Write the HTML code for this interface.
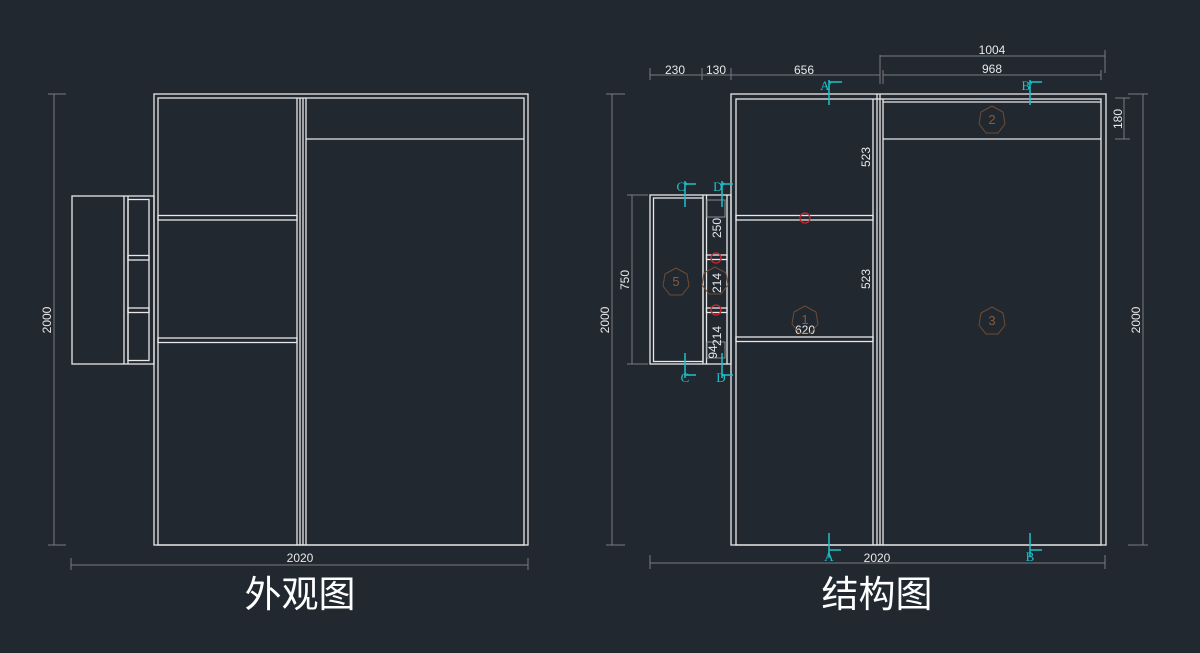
<!DOCTYPE html>
<html><head><meta charset="utf-8"><style>
html,body{margin:0;padding:0;background:#212830;}
svg{display:block}
</style></head><body>
<svg width="1200" height="653" viewBox="0 0 1200 653" xmlns="http://www.w3.org/2000/svg">
<rect width="1200" height="653" fill="#212830"/>
<g fill="none" stroke="#e8e8e8" stroke-width="1.3">
<!-- LEFT DRAWING -->
<rect x="154" y="94" width="374" height="451"/>
<rect x="158" y="98" width="366" height="447"/>
<line x1="297" y1="98" x2="297" y2="545"/><line x1="300" y1="98" x2="300" y2="545"/>
<line x1="303" y1="98" x2="303" y2="545"/><line x1="306" y1="98" x2="306" y2="545"/>
<rect x="158" y="215.5" width="139" height="4.5"/>
<rect x="158" y="338" width="139" height="4.5"/>
<line x1="306" y1="139" x2="524" y2="139"/>
<rect x="72" y="196" width="82" height="168"/>
<line x1="124" y1="196" x2="124" y2="364"/><line x1="128" y1="196" x2="128" y2="364"/>
<rect x="128" y="199.5" width="21" height="161"/>
<rect x="128" y="255.5" width="21" height="4.5"/>
<rect x="128" y="308" width="21" height="4.5"/>
<!-- RIGHT DRAWING -->
<rect x="731" y="94" width="375" height="451"/>
<rect x="736" y="99" width="365" height="446"/>
<line x1="873" y1="99" x2="873" y2="545"/><line x1="877" y1="94" x2="877" y2="545"/>
<line x1="880" y1="94" x2="880" y2="545"/><line x1="883" y1="99" x2="883" y2="545"/>
<line x1="883" y1="102" x2="1101" y2="102"/>
<line x1="883" y1="139" x2="1101" y2="139"/>
<rect x="736" y="215.5" width="137" height="4.5"/>
<rect x="736" y="337" width="137" height="4.5"/>
<rect x="650" y="195" width="81" height="169"/>
<rect x="653.5" y="198" width="49.5" height="163.5"/>
<line x1="703" y1="195" x2="703" y2="364"/><line x1="706.5" y1="195" x2="706.5" y2="364"/>
<line x1="727" y1="195" x2="727" y2="364"/>
<rect x="706.5" y="255" width="20.5" height="4.5"/>
<rect x="706.5" y="308" width="20.5" height="4.5"/>
</g>
<g fill="none" stroke="#8a8a8a" stroke-width="1">
<rect x="707" y="200" width="18" height="17"/>
<rect x="707" y="342" width="18" height="16"/>
</g>
<!-- dimension lines -->
<g stroke="#7a7d80" stroke-width="1" fill="none">
<line x1="54" y1="94" x2="54" y2="545"/><line x1="48" y1="94" x2="66" y2="94"/><line x1="48" y1="545" x2="66" y2="545"/>
<line x1="71" y1="565" x2="528" y2="565"/><line x1="71" y1="558" x2="71" y2="570"/><line x1="528" y1="558" x2="528" y2="570"/>
<line x1="612" y1="94" x2="612" y2="545"/><line x1="606" y1="94" x2="625" y2="94"/><line x1="606" y1="545" x2="625" y2="545"/>
<line x1="632" y1="195" x2="632" y2="364"/><line x1="627" y1="195" x2="648" y2="195"/><line x1="627" y1="364" x2="648" y2="364"/>
<line x1="650" y1="563" x2="1105" y2="563"/><line x1="650" y1="555" x2="650" y2="569"/><line x1="1105" y1="555" x2="1105" y2="569"/>
<line x1="650" y1="75" x2="880" y2="75"/>
<line x1="650" y1="68" x2="650" y2="80"/><line x1="702" y1="68" x2="702" y2="80"/><line x1="731" y1="68" x2="731" y2="80"/><line x1="880" y1="55" x2="880" y2="84"/>
<line x1="880" y1="56" x2="1105" y2="56"/><line x1="1105" y1="50" x2="1105" y2="73"/>
<line x1="883" y1="75" x2="1101" y2="75"/><line x1="883" y1="70" x2="883" y2="84"/><line x1="1101" y1="70" x2="1101" y2="80"/>
<line x1="1124" y1="98" x2="1124" y2="139"/><line x1="1115" y1="98" x2="1130" y2="98"/><line x1="1115" y1="139" x2="1130" y2="139"/>
<line x1="1143" y1="94" x2="1143" y2="545"/><line x1="1128" y1="94" x2="1148" y2="94"/><line x1="1128" y1="545" x2="1148" y2="545"/>
</g>
<g font-family="Liberation Sans, sans-serif" font-size="12" fill="#e8e8e8" text-anchor="middle">
<text x="300" y="562">2020</text>
<text x="877" y="562">2020</text>
<text x="675" y="74">230</text><text x="716" y="74">130</text><text x="804" y="74">656</text>
<text x="992" y="54">1004</text><text x="992" y="73">968</text>
<text x="805" y="334">620</text>
<text transform="translate(51,320) rotate(-90)">2000</text>
<text transform="translate(609,320) rotate(-90)">2000</text>
<text transform="translate(629,280) rotate(-90)">750</text>
<text transform="translate(1140,320) rotate(-90)">2000</text>
<text transform="translate(1122,119) rotate(-90)">180</text>
<text transform="translate(870,157) rotate(-90)">523</text>
<text transform="translate(870,279) rotate(-90)">523</text>
<text transform="translate(721,228) rotate(-90)">250</text>
<text transform="translate(721,283) rotate(-90)">214</text>
<text transform="translate(721,336) rotate(-90)">214</text>
<text transform="translate(717,352) rotate(-90)">94</text>
</g>
<!-- section markers -->
<g stroke="#1cc3cc" stroke-width="1.5" fill="none">
<line x1="829" y1="80" x2="829" y2="105"/><line x1="829" y1="82" x2="842" y2="82"/>
<line x1="829" y1="533" x2="829" y2="557"/><line x1="829" y1="550" x2="841" y2="550"/>
<line x1="1030" y1="80" x2="1030" y2="105"/><line x1="1030" y1="82" x2="1042" y2="82"/>
<line x1="1030" y1="533" x2="1030" y2="557"/><line x1="1030" y1="550" x2="1042" y2="550"/>
<line x1="685" y1="181" x2="685" y2="207"/><line x1="685" y1="184" x2="696" y2="184"/>
<line x1="722" y1="181" x2="722" y2="207"/><line x1="722" y1="184" x2="733" y2="184"/>
<line x1="685" y1="353" x2="685" y2="378"/><line x1="685" y1="375" x2="696" y2="375"/>
<line x1="722" y1="353" x2="722" y2="378"/><line x1="722" y1="375" x2="733" y2="375"/>
</g>
<g font-family="Liberation Serif, serif" font-size="13" fill="#1cc3cc" text-anchor="middle">
<text x="826" y="90">A'</text><text x="829" y="561">A</text>
<text x="1027" y="90">B'</text><text x="1030" y="561">B</text>
<text x="682" y="191">C'</text><text x="719" y="191">D'</text>
<text x="685" y="382">C</text><text x="721" y="382">D</text>
</g>
<!-- hexagons -->
<g stroke="#6e4c34" stroke-width="1" fill="none">
<polygon points="676,268 687,274 689,286 682,295 670,295 663,286 665,274"/>
<polygon points="992,106 1003,112 1005,124 998,133 986,133 979,124 981,112"/>
<polygon points="805,306 816,312 818,324 811,333 799,333 792,324 794,312"/>
<polygon points="992,307 1003,313 1005,325 998,334 986,334 979,325 981,313"/>
<polygon points="715,267 726,273 728,285 721,294 709,294 702,285 704,273"/>
</g>
<g font-family="Liberation Sans, sans-serif" font-size="13" fill="#8a5a3a" text-anchor="middle">
<text x="676" y="286">5</text><text x="992" y="124">2</text><text x="805" y="324">1</text><text x="992" y="325">3</text>
</g>
<g stroke="#d0242a" stroke-width="1.3" fill="none">
<circle cx="805" cy="218" r="5"/><circle cx="716" cy="258" r="5"/><circle cx="716" cy="310" r="5"/>
</g>
<g font-family="Liberation Sans, 'Noto Sans CJK SC', sans-serif" font-size="37" fill="#ffffff" text-anchor="middle">
<text x="300" y="607">外观图</text>
<text x="877" y="607">结构图</text>
</g>
</svg>
</body></html>
